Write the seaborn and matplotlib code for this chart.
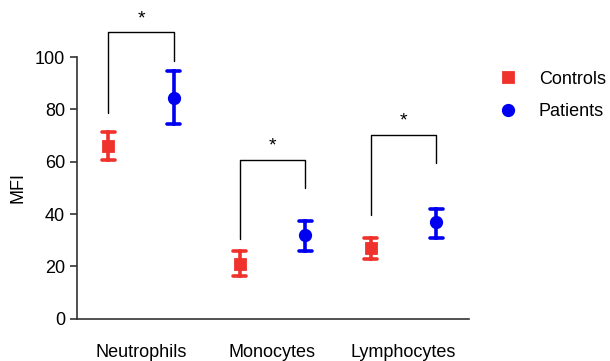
import pandas as pd
import matplotlib
matplotlib.use("Agg")
import matplotlib.pyplot as plt
import seaborn as sns

cells = ["Neutrophils", "Monocytes", "Lymphocytes"]
groups = ["Controls", "Patients"]
controls_mean = [66, 21, 27]
controls_low = [60.5, 16.5, 23]
controls_high = [71.5, 26, 31]
patients_mean = [84.5, 32, 37]
patients_low = [74.5, 26, 31]
patients_high = [94.5, 37.5, 42]

# significance brackets: (left leg bottom, top, right leg bottom, star y)
brackets = [(78.5, 109.5, 98.5, 114.5), (30.5, 60.8, 50, 66), (39.5, 70.4, 59.5, 75.5)]

rows = []
for i, c in enumerate(cells):
    for g, lo, m, hi in [("Controls", controls_low, controls_mean, controls_high),
                         ("Patients", patients_low, patients_mean, patients_high)]:
        for v in (lo[i], m[i], hi[i]):
            rows.append({"cell": c, "group": g, "MFI": v})
df = pd.DataFrame(rows)

sns.set_style("ticks")
plt.rcParams["font.family"] = ["Liberation Sans", "DejaVu Sans"]
plt.rcParams.update({"text.color": "black", "axes.labelcolor": "black",
                     "xtick.labelcolor": "black", "ytick.labelcolor": "black"})

fig = plt.figure(figsize=(6.1, 3.61), dpi=100)
ax = fig.add_axes([0.126, 0.117, 0.643, 0.725])

red = "#F0322D"
blue = "#0000F0"
sns.pointplot(data=df, x="cell", y="MFI", hue="group", order=cells, hue_order=groups,
              estimator="median", errorbar=("pi", 100), dodge=0.5, linestyle="none",
              markers=["s", "o"], palette=[red, blue], capsize=0.1, err_kws={"linewidth": 2.6},
              markersize=7.5, ax=ax)

ax.set_ylim(0, 100)
ax.set_xlim(-0.49, 2.5)
ax.set_yticks([0, 20, 40, 60, 80, 100])
ax.tick_params(axis="y", labelsize=13, length=5, width=1.2, color="#333333", labelcolor="black")
ax.tick_params(axis="x", labelsize=13, length=0, pad=18, labelcolor="black")
ax.set_xlabel("")
ax.set_ylabel("MFI", fontsize=13, labelpad=6, color="black")
for s in ["left", "bottom"]:
    ax.spines[s].set_linewidth(1.2)
    ax.spines[s].set_color("#333333")
sns.despine(ax=ax)

for i, (l, t, r, sy) in enumerate(brackets):
    x0, x1 = i - 0.25, i + 0.25
    ax.plot([x0, x0, x1, x1], [l, t, t, r], color="black", lw=1, clip_on=False)
    ax.text(i, sy, "*", ha="center", va="center", fontsize=14, color="black", clip_on=False)

leg = ax.legend(loc="upper left", bbox_to_anchor=(1.035, 1.01), frameon=False, fontsize=13,
                handletextpad=1.2, labelspacing=0.85, handlelength=1)
for t in leg.get_texts():
    t.set_color("black")
plt.savefig("out.png", dpi=100)
